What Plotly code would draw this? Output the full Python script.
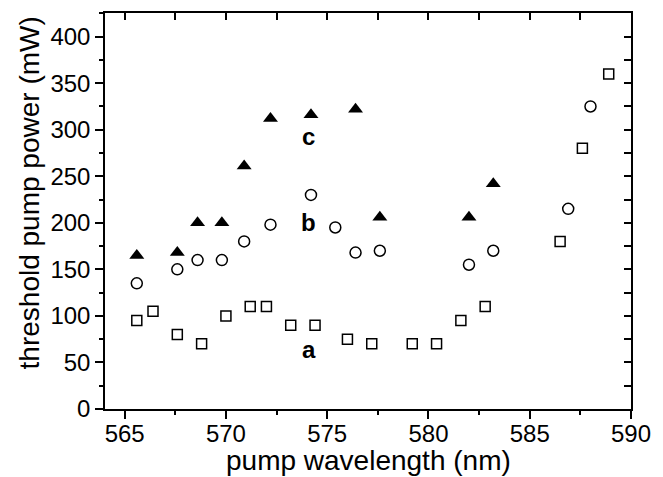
import plotly.graph_objects as go

# series a (open squares)
a_x = [565.6, 566.4, 567.6, 568.8, 570.0, 571.2, 572.0, 573.2, 574.4, 576.0, 577.2, 579.2, 580.4, 581.6, 582.8, 586.5, 587.6, 588.9]
a_y = [95, 105, 80, 70, 100, 110, 110, 90, 90, 75, 70, 70, 70, 95, 110, 180, 280, 360]
# series b (open circles)
b_x = [565.6, 567.6, 568.6, 569.8, 570.9, 572.2, 574.2, 575.4, 576.4, 577.6, 582.0, 583.2, 586.9, 588.0]
b_y = [135, 150, 160, 160, 180, 198, 230, 195, 168, 170, 155, 170, 215, 325]
# series c (filled triangles)
c_x = [565.6, 567.6, 568.6, 569.8, 570.9, 572.2, 574.2, 576.4, 577.6, 582.0, 583.2]
c_y = [165, 168, 200, 200, 261, 312, 316, 322, 206, 206, 242]

labels = ["a", "b", "c"]
label_x = [574.1, 574.1, 574.1]
label_y = [64, 200, 293]

x_ticks = [565, 570, 575, 580, 585, 590]
y_ticks = [0, 50, 100, 150, 200, 250, 300, 350, 400]
x_title = "pump wavelength (nm)"
y_title = "threshold pump power (mW)"

FONT = "Liberation Sans, Arial, sans-serif"

fig = go.Figure()
fig.add_trace(go.Scatter(x=a_x, y=a_y, mode="markers",
                         marker=dict(symbol="square-open", size=10, color="black", line=dict(width=1.5))))
fig.add_trace(go.Scatter(x=b_x, y=b_y, mode="markers",
                         marker=dict(symbol="circle-open", size=11, color="black", line=dict(width=1.5))))
fig.add_trace(go.Scatter(x=c_x, y=c_y, mode="markers",
                         marker=dict(symbol="triangle-up", size=13, color="black")))

for t, x, y in zip(labels, label_x, label_y):
    fig.add_annotation(x=x, y=y, text="<b>%s</b>" % t, showarrow=False,
                       font=dict(family=FONT, size=24, color="black"))

# axis titles as annotations for precise placement
fig.add_annotation(xref="paper", yref="paper", x=0.5, y=-0.131, text=x_title, showarrow=False,
                   xanchor="center", yanchor="middle", font=dict(family=FONT, size=28, color="black"))
fig.add_annotation(xref="paper", yref="paper", x=-0.144, y=0.545, text=y_title, showarrow=False,
                   textangle=-90, xanchor="center", yanchor="middle",
                   font=dict(family=FONT, size=28, color="black"))

common = dict(showline=True, linecolor="black", linewidth=1.5, showgrid=False, zeroline=False,
              tickcolor="black", tickwidth=1.5)

fig.update_layout(
    width=663, height=477,
    margin=dict(l=105, r=23, t=13, b=68),
    plot_bgcolor="white", paper_bgcolor="white",
    showlegend=False,
    font=dict(family=FONT, size=24, color="black"),
    xaxis=dict(range=[564.03, 590], tickvals=x_ticks, ticks="outside", ticklen=8,
               ticklabelstandoff=-6,
               minor=dict(dtick=2.5, tick0=565, ticks="outside", ticklen=4, tickcolor="black", tickwidth=1.5),
               tickfont=dict(size=24), **common),
    yaxis=dict(range=[0, 425.4], tickvals=y_ticks, ticks="outside", ticklen=8,
               minor=dict(dtick=25, tick0=0, ticks="outside", ticklen=4, tickcolor="black", tickwidth=1.5),
               tickfont=dict(size=24), **common),
    xaxis2=dict(overlaying="x", side="top", matches="x", range=[564.03, 590], tickvals=x_ticks,
                ticks="inside", ticklen=7, showticklabels=False,
                minor=dict(dtick=2.5, tick0=565, ticks="inside", ticklen=7, tickcolor="black", tickwidth=1.5),
                **common),
    yaxis2=dict(overlaying="y", side="right", matches="y", range=[0, 425.4], tickvals=y_ticks,
                ticks="inside", ticklen=7, showticklabels=False,
                minor=dict(dtick=25, tick0=0, ticks="inside", ticklen=7, tickcolor="black", tickwidth=1.5),
                **common),
)
# invisible trace to activate the mirrored axes
fig.add_trace(go.Scatter(x=[565], y=[0], xaxis="x2", yaxis="y2", mode="markers",
                         marker=dict(opacity=0), hoverinfo="skip"))

fig.write_html("out.html", config={"displayModeBar": False},
               post_script="document.body.style.margin='0';document.body.style.overflow='hidden';")
